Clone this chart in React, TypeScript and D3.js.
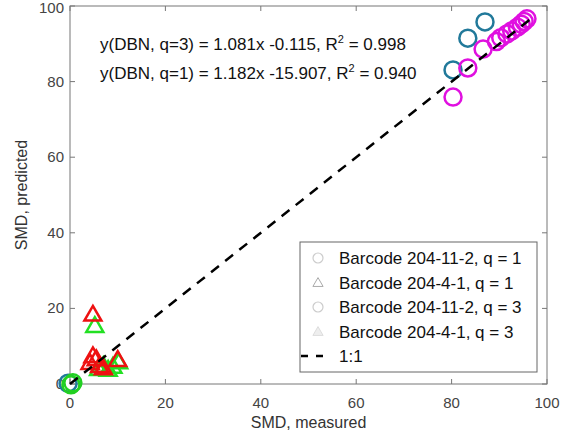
import React from 'react';
import * as d3 from 'd3';

// measured / predicted SMD values
const circlesQ1X = [80.3, 83.4, 87.0, -0.4];
const circlesQ1Y = [83.1, 91.5, 95.8, 0.2];
const trianglesQ1X = [4.8, 4.2, 4.8, 5.5, 6.2, 7.0, 10.0];
const trianglesQ1Y = [18.6, 5.8, 7.6, 6.8, 5.0, 4.4, 6.6];
const circlesQ3X = [80.3, 83.4, 86.6, 89.4, 90.3, 91.6, 92.6, 93.8, 94.6, 95.2, 95.8, 0.2, 0.6];
const circlesQ3Y = [75.9, 83.6, 88.6, 90.6, 91.6, 92.6, 93.4, 94.4, 95.2, 95.9, 96.6, -0.2, 0.3];
const trianglesQ3X = [5.2, 6.0, 7.0, 8.0, 9.0, 10.2];
const trianglesQ3Y = [15.6, 4.2, 5.0, 4.0, 4.8, 6.0];
const oneToOne = [0, 97];

const xTicks = [0, 20, 40, 60, 80, 100];
const yTicks = [0, 20, 40, 60, 80, 100];
const legendLabels = [
  'Barcode 204-11-2, q = 1',
  'Barcode 204-4-1, q = 1',
  'Barcode 204-11-2, q = 3',
  'Barcode 204-4-1, q = 3',
  '1:1',
];
const equations = [
  ['y(DBN, q=3) = 1.081x -0.115, R', ' = 0.998'],
  ['y(DBN, q=1) = 1.182x -15.907, R', ' = 0.940'],
];

const W = 585;
const H = 434;
const margin = { left: 70, right: 38, top: 6, bottom: 50 };
const font = 'Liberation Sans, Arial, Helvetica, sans-serif';

const App = () => {
  const x = d3.scaleLinear().domain([0, 100]).range([margin.left, W - margin.right]);
  const y = d3.scaleLinear().domain([0, 100]).range([H - margin.bottom, margin.top]);
  const tri = d3.symbol().type(d3.symbolTriangle).size(125)();
  const circleR = 8.5;

  const x0 = x(0), x1 = x(100), y0 = y(0), y1 = y(100);

  const legend = { x: 300, y: 242, w: 237, h: 130 };

  return (
    <svg width={W} height={H} style={{ position: 'absolute', left: 0, top: 0, background: '#fff' }}>
      <rect width={W} height={H} fill="#fff" />
      {/* box + inward ticks */}
      <rect x={x0} y={y1} width={x1 - x0} height={y0 - y1} fill="none" stroke="#777" strokeWidth={1} />
      {xTicks.map(t => (
        <g key={'xt' + t}>
          <line x1={x(t)} x2={x(t)} y1={y0} y2={y0 - 5} stroke="#777" />
          <line x1={x(t)} x2={x(t)} y1={y1} y2={y1 + 5} stroke="#777" />
          <text x={x(t)} y={y0 + 24} textAnchor="middle" fontSize={15} fill="#444" fontFamily={font}>{t}</text>
        </g>
      ))}
      {yTicks.map(t => (
        <g key={'yt' + t}>
          <line x1={x0} x2={x0 + 5} y1={y(t)} y2={y(t)} stroke="#777" />
          <line x1={x1} x2={x1 - 5} y1={y(t)} y2={y(t)} stroke="#777" />
          <text x={x0 - 6} y={Math.max(y(t) + 5, 13)} textAnchor="end" fontSize={15} fill="#444" fontFamily={font}>{t}</text>
        </g>
      ))}
      <text x={(x0 + x1) / 2} y={428} textAnchor="middle" fontSize={16} fill="#333" fontFamily={font}>SMD, measured</text>
      <text transform={`translate(27,${(y0 + y1) / 2}) rotate(-90)`} textAnchor="middle" fontSize={16} fill="#333" fontFamily={font}>SMD, predicted</text>

      {/* markers */}
      {trianglesQ3X.map((v, i) => (
        <path key={'t3' + i} d={tri} transform={`translate(${x(v)},${y(trianglesQ3Y[i]) + 2})`} fill="none" stroke="#22e022" strokeWidth={2.5} />
      ))}
      {trianglesQ1X.map((v, i) => (
        <path key={'t1' + i} d={tri} transform={`translate(${x(v)},${y(trianglesQ1Y[i]) + 2})`} fill="none" stroke="#ee1111" strokeWidth={2.5} />
      ))}
      {circlesQ1X.map((v, i) => (
        <circle key={'c1' + i} cx={x(v)} cy={y(circlesQ1Y[i])} r={circleR} fill="none" stroke="#21799a" strokeWidth={2.5} />
      ))}
      {circlesQ3X.map((v, i) => (
        <circle key={'c3' + i} cx={x(v)} cy={y(circlesQ3Y[i])} r={circleR} fill="none"
          stroke={i >= 11 ? '#22d022' : '#e010e0'} strokeWidth={2.5} />
      ))}
      <line x1={x(oneToOne[0])} y1={y(oneToOne[0])} x2={x(oneToOne[1])} y2={y(oneToOne[1])}
        stroke="#000" strokeWidth={2.5} strokeDasharray="10,8" />

      {equations.map((e, i) => (
        <text key={'eq' + i} x={100} y={50 + i * 29} fontSize={17} fill="#111" fontFamily={font}>
          {e[0]}<tspan fontSize={11} dy={-7}>2</tspan><tspan dy={7}>{e[1]}</tspan>
        </text>
      ))}

      {/* legend */}
      <rect x={legend.x} y={legend.y} width={legend.w} height={legend.h} fill="#fff" stroke="#666" strokeWidth={1} />
      {legendLabels.map((l, i) => {
        const cy = legend.y + 16 + i * 24.5;
        const mx = legend.x + 18;
        let marker = null;
        if (i === 0 || i === 2) marker = <circle cx={mx} cy={cy} r={5} fill="none" stroke="#ccc" strokeWidth={1.2} />;
        if (i === 1) marker = <path d={d3.symbol().type(d3.symbolTriangle).size(45)()} transform={`translate(${mx},${cy + 1})`} fill="none" stroke="#aaa" strokeWidth={1} />;
        if (i === 3) marker = <path d={d3.symbol().type(d3.symbolTriangle).size(45)()} transform={`translate(${mx},${cy + 1})`} fill="#eee" stroke="#ddd" strokeWidth={1} />;
        if (i === 4) marker = <line x1={legend.x + 1} x2={legend.x + 28} y1={cy} y2={cy} stroke="#000" strokeWidth={2.5} strokeDasharray="7,8" />;
        return (
          <g key={'lg' + i}>
            {marker}
            <text x={legend.x + 39} y={cy + 6} fontSize={17} fill="#111" fontFamily={font}>{l}</text>
          </g>
        );
      })}
    </svg>
  );
};

export default App;
